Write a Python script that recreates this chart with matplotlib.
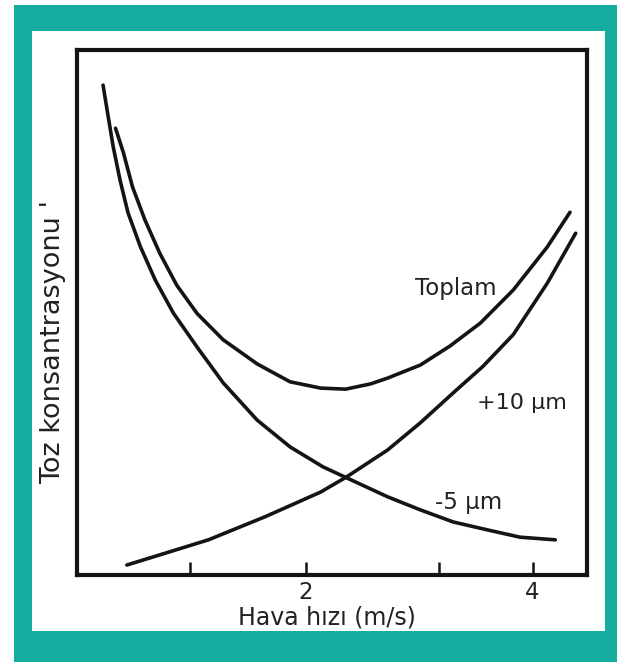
import matplotlib
matplotlib.use("Agg")
import matplotlib.pyplot as plt
from matplotlib.patches import Rectangle

# (x: Hava hızı in m/s, y: arbitrary concentration units)
minus5_x = [0.23, 0.27, 0.32, 0.38, 0.45, 0.56, 0.69, 0.85, 1.06, 1.29, 1.59, 1.88, 2.17, 2.38,
            2.74, 3.03, 3.32, 3.62, 3.91, 4.22]
minus5_y = [9.33, 8.80, 8.15, 7.52, 6.90, 6.25, 5.62, 4.99, 4.34, 3.66, 2.95, 2.44, 2.06, 1.85,
            1.49, 1.24, 1.01, 0.86, 0.72, 0.67]

toplam_x = [0.34, 0.41, 0.49, 0.60, 0.73, 0.88, 1.06, 1.29, 1.59, 1.88, 2.15, 2.37, 2.59, 2.74,
            3.03, 3.29, 3.56, 3.85, 4.15, 4.35]
toplam_y = [8.51, 8.04, 7.39, 6.76, 6.13, 5.52, 4.98, 4.48, 4.02, 3.68, 3.56, 3.54, 3.64, 3.75,
            4.00, 4.36, 4.80, 5.43, 6.25, 6.91]

plus10_x = [0.44, 1.16, 1.66, 2.15, 2.38, 2.74, 3.03, 3.32, 3.58, 3.85, 4.15, 4.40]
plus10_y = [0.19, 0.67, 1.11, 1.58, 1.87, 2.38, 2.90, 3.47, 3.97, 4.58, 5.56, 6.51]

tick_pos = [1.0, 2.02, 3.19, 4.02]
tick_labels = ["", "2", "", "4"]

W, H = 617, 662
teal = "#14ad9f"
ink = "#141414"
txt = "#222222"

fig = plt.figure(figsize=(W / 100, H / 100), dpi=100)
fig.patch.set_facecolor("white")

# frame: teal band with white panel inside
fig.patches.append(Rectangle((14 / W, 0), 1 - 14 / W, 1 - 5 / H, transform=fig.transFigure,
                             facecolor=teal, edgecolor="none", zorder=-10))
fig.patches.append(Rectangle((32 / W, 1 - 631 / H), (605 - 32) / W, (631 - 31) / H,
                             transform=fig.transFigure, facecolor="white", edgecolor="none", zorder=-9))

ax = fig.add_axes([77 / W, 1 - 575 / H, (587 - 77) / W, (575 - 50) / H])
ax.set_zorder(5)
ax.set_facecolor("white")

for xs, ys in [(minus5_x, minus5_y), (toplam_x, toplam_y), (plus10_x, plus10_y)]:
    ax.plot(xs, ys, color=ink, lw=2.6, solid_capstyle="round", solid_joinstyle="round")

ax.set_xlim(0, 4.5)
ax.set_ylim(0, 10)
ax.set_xticks(tick_pos)
ax.set_xticklabels(tick_labels, fontsize=16.5, color=txt)
ax.tick_params(axis="x", direction="in", length=9.5, width=1.8, color=ink, pad=4)
ax.set_yticks([])
for sp in ax.spines.values():
    sp.set_linewidth(3)
    sp.set_color(ink)

ax.text(3.34, 5.46, "Toplam", fontsize=16.5, color=txt, ha="center", va="center")
ax.text(3.53, 3.28, "+10 µm", fontsize=16, color=txt, ha="left", va="center")
ax.text(3.16, 1.39, "-5 µm", fontsize=16.5, color=txt, ha="left", va="center")

fig.text(327 / W, 1 - 617 / H, "Hava hızı (m/s)", fontsize=17, color=txt,
         ha="center", va="center", zorder=6)
fig.text(53 / W, 1 - 342 / H, "Toz konsantrasyonu '", fontsize=19.5, color=txt,
         ha="center", va="center", rotation=90, zorder=6)

fig.savefig("out.png", dpi=100, facecolor="white")
